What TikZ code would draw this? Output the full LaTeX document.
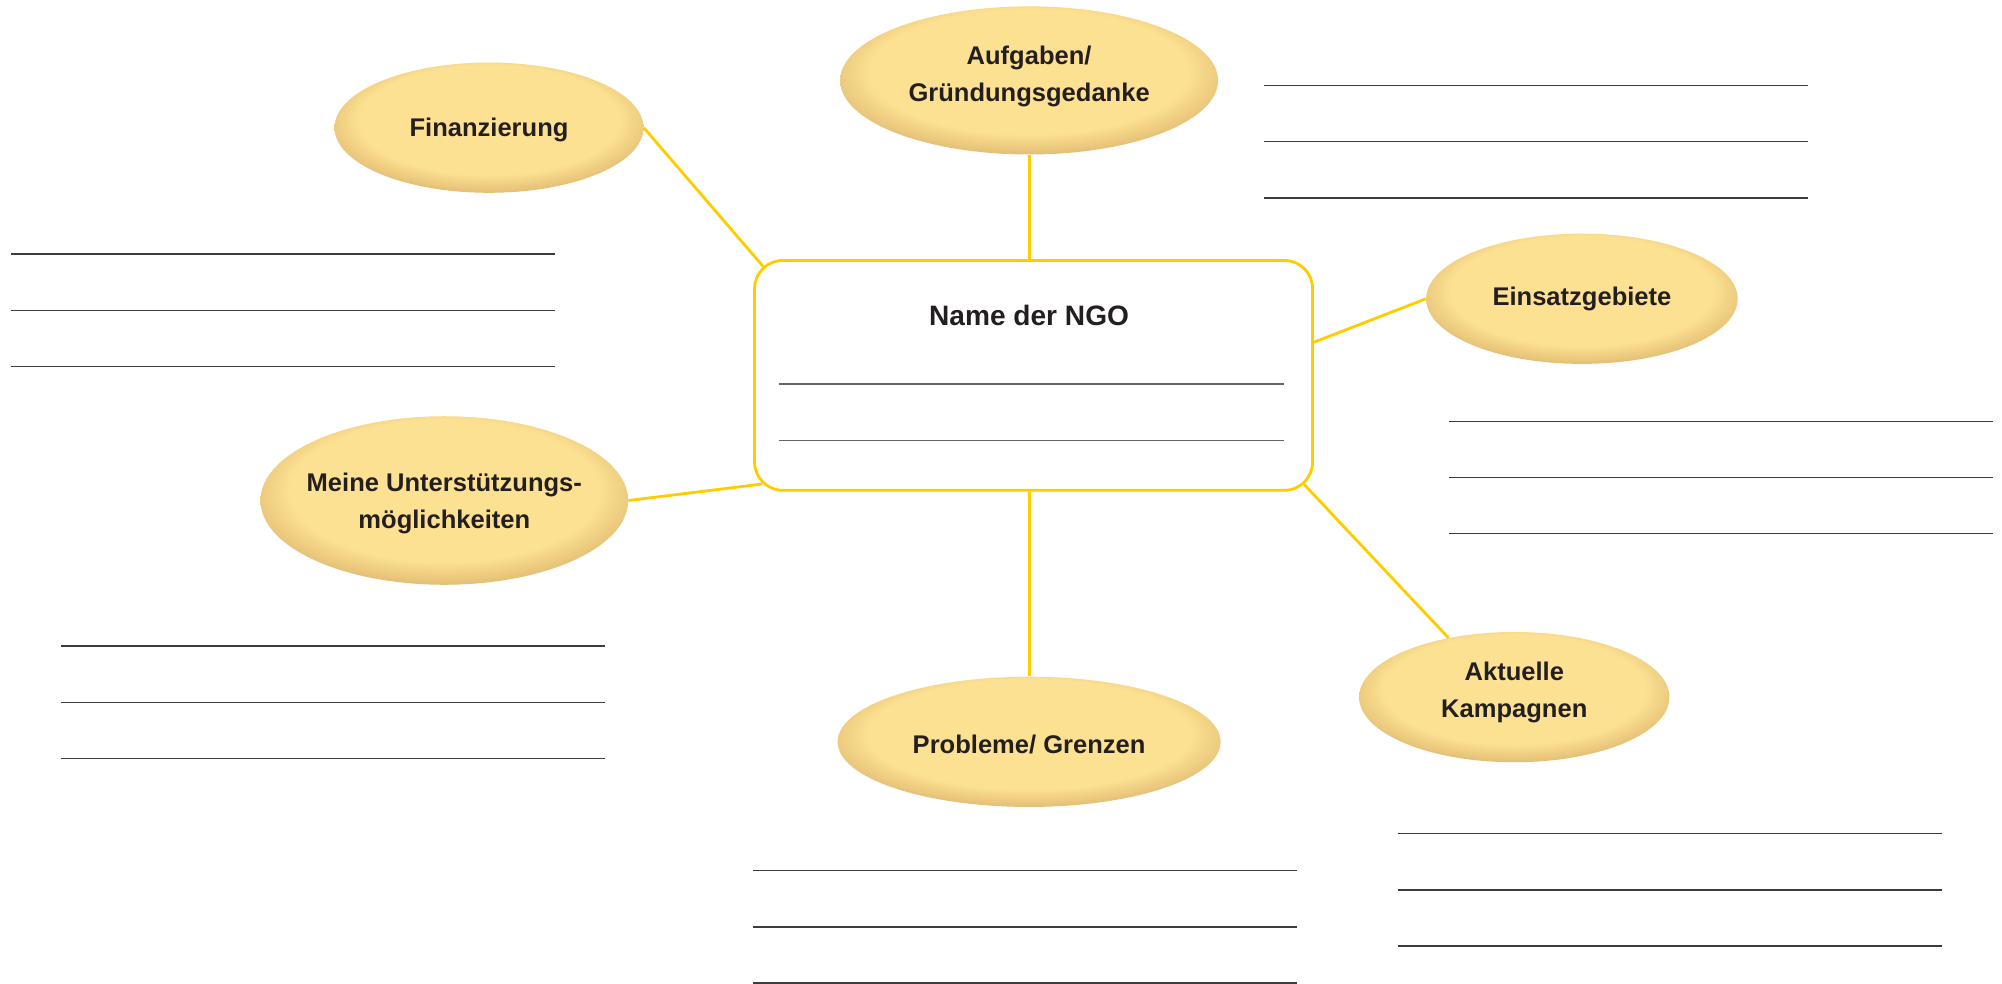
\documentclass[tikz,border=0pt]{standalone}
\usepackage{fontspec}
\setmainfont{Liberation Sans}
\usetikzlibrary{shapes.geometric}
\definecolor{ylline}{RGB}{255,204,0}
\definecolor{elllt}{RGB}{253,225,146}
\definecolor{elldk}{RGB}{228,192,118}
\definecolor{txt}{RGB}{35,31,32}
\definecolor{wline}{RGB}{60,60,60}
\definecolor{bline}{RGB}{100,100,100}
\pgfdeclareradialshading{ellshade}{\pgfpoint{0bp}{5bp}}{color(0bp)=(elllt); color(21bp)=(elllt); color(27bp)=(elldk); color(50bp)=(elldk)}
\tikzset{
  topic/.style={ellipse, shading=ellshade, draw=none, inner sep=0pt},
  topictext/.style={align=center, inner sep=0pt,
    font=\fontsize{20}{29}\selectfont\bfseries, text=txt},
  conn/.style={draw=ylline, line width=2.2pt},
  wl/.style={draw=wline, line width=1pt},
  bl/.style={draw=bline, line width=1.4pt},
}
\begin{document}
\begin{tikzpicture}[x=1pt,y=-1pt]
\useasboundingbox (0,0) rectangle (1568,770.6);
% central box
\node[draw=ylline, line width=2.2pt, rounded corners=22pt, minimum width=437pt, minimum height=180pt, inner sep=0pt] (box) at (809.5,294) {};
\node[font=\fontsize{22}{26}\selectfont\bfseries, text=txt] (name) at (806,247) {Name der NGO};
\coordinate (b1a) at (610,301); \coordinate (b1b) at (1006,301);
\coordinate (b2a) at (610,345); \coordinate (b2b) at (1006,345);
\draw[bl] (b1a) -- (b1b);
\draw[bl] (b2a) -- (b2b);
% topics
\node[topic, minimum width=242pt, minimum height=102pt] (fin) at (383,100) {};
\node[topictext] (fint) at (383,101.5) {Finanzierung};
\node[topic, minimum width=296pt, minimum height=116pt] (auf) at (806,63) {};
\node[topictext] (auft) at (806,60) {Aufgaben/\\Gründungsgedanke};
\node[topic, minimum width=244pt, minimum height=102pt] (ein) at (1239,234) {};
\node[topictext] (eint) at (1239,234) {Einsatzgebiete};
\node[topic, minimum width=288pt, minimum height=132pt] (mei) at (348,392) {};
\node[topictext] (meit) at (348,394) {Meine Unterstützungs-\\möglichkeiten};
\node[topic, minimum width=300pt, minimum height=102pt] (pro) at (806,581) {};
\node[topictext] (prot) at (806,583) {Probleme/ Grenzen};
\node[topic, minimum width=243pt, minimum height=102pt] (akt) at (1186,546) {};
\node[topictext] (aktt) at (1186,542) {Aktuelle\\Kampagnen};
% connectors
\draw[conn] (fin.east) -- ([xshift=8pt,yshift=-6pt]box.north west);
\draw[conn] (auf.south) -- (auf.south |- box.north);
\draw[conn] (ein.west) -- ([yshift=26pt]box.east);
\draw[conn] (mei.east) -- ([xshift=7pt,yshift=6pt]box.south west);
\draw[conn] (pro.north) -- (pro.north |- box.south);
\draw[conn] (akt.138) -- ([xshift=-8pt,yshift=6pt]box.south east);
% writing lines
\foreach \n/\x/\y in {tr/990/67, lf/9/199, rm/1135/330, lb/48/506, bm/590/682, br/1095/653}{
  \foreach \k in {0,1,2}{
    \coordinate (\n\k a) at (\x,\y+44*\k);
    \coordinate (\n\k b) at (\x+426,\y+44*\k);
    \draw[wl] (\n\k a) -- (\n\k b);
  }
}
\end{tikzpicture}
\end{document}
